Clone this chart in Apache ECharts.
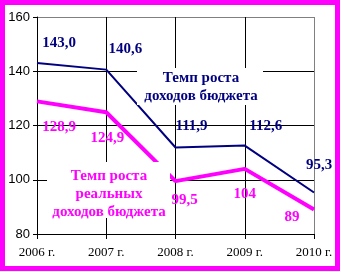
<!DOCTYPE html>
<html><head><meta charset="utf-8">
<script src="https://cdn.jsdelivr.net/npm/echarts@6/dist/echarts.min.js"></script>
<style>html,body{margin:0;padding:0;background:#fff}#c{width:341px;height:272px}</style>
</head><body><div id="c"></div>
<script>
const categories = ['2006 г.', '2007 г.', '2008 г.', '2009 г.', '2010 г.'];
const nominalGrowth = [143.0, 140.6, 111.9, 112.6, 95.3];
const realGrowth = [128.9, 124.9, 99.5, 104, 89];
const nominalLabels = ['143,0', '140,6', '111,9', '112,6', '95,3'];
const realLabels = ['128,9', '124,9', '99,5', '104', '89'];
const yMin = 80, yMax = 160, yStep = 20;
const nominalName = 'Темп роста\nдоходов бюджета';
const realName = 'Темп роста\nреальных\nдоходов бюджета';

// label placement (style only)
const nominalOffsets = [[22, -20], [19, -20], [16, -21], [21, -19], [5, -27]];
const realOffsets = [[22, 26], [1, 26], [9, 19], [0, 25], [-22, 8]];

const NAVY = '#000080', MAG = '#ff00ff', GRAY = '#808080';
const SERIF = '"Liberation Serif", "Times New Roman", serif';
const labelFont = { fontFamily: SERIF, fontWeight: 'bold', fontSize: 15 };

function build(values, labels, offsets, color) {
  return values.map((v, i) => ({
    value: v,
    label: Object.assign({
      show: true, position: 'inside', formatter: labels[i], offset: offsets[i],
      color: color, align: 'center', verticalAlign: 'middle'
    }, labelFont)
  }));
}

const chart = echarts.init(document.getElementById('c'), null, { renderer: 'canvas' });
chart.setOption({
  animation: false,
  backgroundColor: '#fff',
  grid: { left: 37, right: 27, top: 17, bottom: 38 },
  xAxis: {
    type: 'category', data: categories, boundaryGap: false,
    axisLine: { lineStyle: { color: '#000', width: 1 } },
    axisTick: { show: true, length: 5, lineStyle: { color: '#000' } },
    axisLabel: { color: '#000', fontFamily: SERIF, fontSize: 13, margin: 12 },
    splitLine: { show: true, lineStyle: { color: ['#000', '#000', '#000', '#000', GRAY], width: 1 } }
  },
  yAxis: {
    type: 'value', min: yMin, max: yMax, interval: yStep,
    axisLine: { show: true, lineStyle: { color: '#000', width: 1 } },
    axisTick: { show: true, length: 4, lineStyle: { color: '#000' } },
    axisLabel: { color: '#000', fontFamily: '"Liberation Sans", sans-serif', fontSize: 13, margin: 7 },
    splitLine: { show: true, lineStyle: { color: ['#000', '#000', '#000', '#000', GRAY], width: 1 } }
  },
  series: [
    {
      type: 'line', data: build(nominalGrowth, nominalLabels, nominalOffsets, NAVY),
      symbol: 'circle', symbolSize: 0, lineStyle: { color: NAVY, width: 2 },
      itemStyle: { color: NAVY }, z: 3
    },
    {
      type: 'line', data: build(realGrowth, realLabels, realOffsets, MAG),
      symbol: 'circle', symbolSize: 0, lineStyle: { color: MAG, width: 4 },
      itemStyle: { color: MAG }, z: 3
    }
  ],
  graphic: [
    { type: 'rect', z: 50, shape: { x: 137, y: 68, width: 126, height: 37 }, style: { fill: '#fff' } },
    { type: 'text', z: 51, x: 201, y: 87, style: { text: nominalName, align: 'center', verticalAlign: 'middle',
        fontFamily: SERIF, fontWeight: 'bold', fontSize: 15, fill: NAVY, lineHeight: 18.5 } },
    { type: 'rect', z: 50, shape: { x: 47, y: 162, width: 123, height: 56 }, style: { fill: '#fff' } },
    { type: 'text', z: 51, x: 109, y: 194, style: { text: realName, align: 'center', verticalAlign: 'middle',
        fontFamily: SERIF, fontWeight: 'bold', fontSize: 15, fill: MAG, lineHeight: 18 } },
    { type: 'rect', z: 200, shape: { x: 2.5, y: 2.5, width: 335, height: 266 }, style: { fill: null, stroke: MAG, lineWidth: 5 } }
  ]
});
</script>
</body></html>
